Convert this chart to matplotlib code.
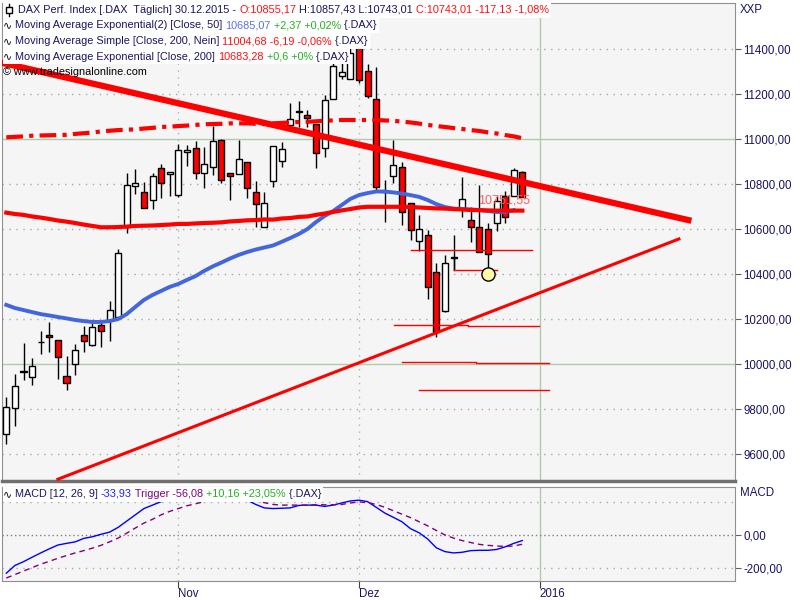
import numpy as np
import matplotlib.pyplot as plt
from matplotlib.patches import Rectangle
from matplotlib.lines import Line2D

# daily DAX bars (index 0 = first visible session)
opens = [9689, 9804, 9965, 9942, 10097, 10129, 10107, 9947, 10000, 10129,
         10084, 10173, 10198, 10212, 10609, 10791, 10764, 10729, 10871, 10846,
         10751, 10944, 10960, 10849, 10876, 10996, 10849, 10844, 10898, 10764,
         10610, 10816, 10905, 11062, 11120, 11107, 11067, 10960, 11180, 11283,
         11268, 11410, 11305, 11178, 10764, 10837, 10876, 10718, 10547, 10573,
         10409, 10238, 10473, 10696, 10641, 10610, 10600, 10627, 10749, 10747,
         10855]
highs = [9853, 9957, 10093, 10027, 10147, 10188, 10110, 10037, 10089, 10169,
         10184, 10196, 10281, 10512, 10849, 10868, 10810, 10850, 10890, 10853,
         10979, 10975, 10991, 10964, 11059, 11000, 10849, 10998, 10898, 10815,
         10764, 10972, 10988, 11160, 11170, 11129, 11067, 11196, 11345, 11347,
         11409, 11430, 11336, 11320, 10819, 10997, 10898, 10718, 10664, 10597,
         10449, 10484, 10573, 10831, 10698, 10796, 10627, 10749, 10772, 10872,
         10857]
lows = [9644, 9727, 9932, 9909, 10047, 10056, 9936, 9887, 9954, 10056,
        10082, 10078, 10105, 10205, 10585, 10758, 10693, 10692, 10740, 10749,
        10743, 10883, 10825, 10785, 10843, 10807, 10729, 10844, 10738, 10609,
        10610, 10787, 10878, 11053, 11053, 11053, 10871, 10923, 11180, 11267,
        11268, 11250, 11185, 10775, 10634, 10807, 10618, 10552, 10502, 10292,
        10123, 10234, 10419, 10656, 10545, 10498, 10392, 10594, 10627, 10747,
        10743]
closes = [9812, 9904, 9970, 9991, 10101, 10120, 10031, 9916, 10062, 10102,
          10164, 10147, 10240, 10493, 10796, 10804, 10693, 10836, 10804, 10853,
          10951, 10952, 10849, 10889, 10991, 10818, 10837, 10911, 10782, 10711,
          10716, 10972, 10958, 11089, 11128, 11093, 10938, 11173, 11326, 11298,
          11385, 11264, 11192, 10788, 10771, 10887, 10677, 10597, 10600, 10344,
          10144, 10449, 10479, 10736, 10609, 10498, 10489, 10726, 10653, 10862,
          10743]

ema50 = [10264, 10250, 10241, 10232, 10223, 10217, 10210, 10204, 10197, 10192,
         10188, 10188, 10192, 10201, 10223, 10255, 10286, 10308, 10326, 10344,
         10357, 10375, 10392, 10415, 10435, 10452, 10470, 10486, 10499, 10510,
         10519, 10528, 10544, 10561, 10579, 10601, 10632, 10659, 10681, 10708,
         10735, 10752, 10761, 10768, 10768, 10764, 10759, 10752, 10744, 10730,
         10712, 10699, 10692, 10690, 10688, 10686, 10681, 10677, 10677, 10685]
ema200 = [10674, 10668, 10664, 10657, 10652, 10646, 10639, 10634, 10628, 10621,
          10615, 10609, 10609, 10610, 10612, 10615, 10616, 10617, 10619, 10621,
          10624, 10624, 10626, 10628, 10629, 10631, 10635, 10637, 10640, 10641,
          10644, 10643, 10648, 10650, 10655, 10657, 10664, 10670, 10677, 10684,
          10690, 10697, 10700, 10700, 10700, 10700, 10700, 10699, 10697, 10695,
          10693, 10692, 10690, 10688, 10686, 10685, 10684, 10683, 10683, 10683,
          10683]
sma200 = [11009, 11011, 11013, 11016, 11017, 11018, 11019, 11020, 11024, 11027,
          11030, 11035, 11038, 11041, 11043, 11044, 11048, 11051, 11055, 11056,
          11059, 11061, 11064, 11067, 11068, 11069, 11071, 11071, 11071, 11069,
          11068, 11071, 11073, 11075, 11077, 11078, 11080, 11083, 11084, 11086,
          11086, 11086, 11086, 11086, 11084, 11082, 11079, 11075, 11070, 11064,
          11059, 11055, 11050, 11046, 11041, 11037, 11031, 11026, 11019, 11013,
          11005]

macd = [-232, -185, -162, -135, -109, -84, -61, -51, -42, -21,
        -11, 4, 17, 46, 84, 122, 160, 181, 202, 223,
        238, 244, 242, 242, 238, 232, 229, 227, 211, 185,
        164, 160, 162, 164, 179, 181, 181, 173, 181, 194,
        206, 211, 202, 168, 133, 107, 80, 38, 13, -25,
        -78, -101, -109, -105, -95, -93, -93, -88, -72, -51,
        -34]
trigger = [-261, -240, -219, -198, -177, -160, -141, -125, -109, -95,
           -80, -63, -42, -19, 11, 42, 72, 95, 122, 143,
           160, 177, 189, 202, 215, 219, 221, 221, 217, 206,
           196, 185, 181, 181, 181, 181, 183, 183, 183, 185,
           194, 200, 196, 185, 168, 147, 126, 105, 80, 55,
           27, 0, -19, -34, -46, -57, -63, -67, -69, -67,
           -56]

down_x, down_y = [-0.5, 79.3], [11340, 10641]
up_x, up_y = [6.0, 78.2], [9489, 10557]
# red horizontal marks: (start, end, level)
marks = [(47.1, 61.1, 10508), (52.1, 57.0, 10419), (45.1, 53.7, 10175),
         (53.7, 61.9, 10170), (46.0, 54.6, 10010), (54.6, 63.1, 10006),
         (48.0, 63.1, 9885)]

date_pos = [20, 41, 62]
date_lbl = ['Nov', 'Dez', '2016']
price_ticks = list(range(9600, 11600, 200))

FONT = ['Liberation Sans', 'DejaVu Sans']
NAVY = '#1a1460'
BG = '#f5f5f5'

fig = plt.figure(figsize=(8, 6), dpi=100)
ax = fig.add_axes([0.0025, 0.1983, 0.916, 0.7967])
ax2 = fig.add_axes([0.0025, 0.0317, 0.916, 0.1567], sharex=ax)

for a in (ax, ax2):
    a.set_facecolor(BG)
    for s in a.spines.values():
        s.set_color('#909090')
    a.yaxis.tick_right()
    a.tick_params(axis='y', length=4, color='#606060', labelcolor=NAVY,
                  labelsize=8.3, pad=2)
    for p, lbl in zip(date_pos, date_lbl):
        if lbl == '2016':
            a.axvline(p, color='#b4c8b0', lw=1, zorder=0)
        else:
            a.axvline(p, color='#a8b8a8', lw=1, ls=(0, (1, 4)), zorder=0)
ax.spines['bottom'].set_color('#707070')
ax.spines['bottom'].set_linewidth(2.5)

# price panel grid
for v in price_ticks:
    if v % 1000 == 0:
        ax.axhline(v, color='#b4c8b0', lw=1, zorder=0)
    else:
        ax.axhline(v, color='#a8a8a8', lw=1, ls=(0, (1, 4)), zorder=0)

# candles
for i in range(len(opens)):
    o, h, l, c = opens[i], highs[i], lows[i], closes[i]
    ax.vlines(i, l, h, color='black', lw=1, zorder=3)
    fc = 'white' if c >= o else '#ff0000'
    ax.add_patch(Rectangle((i - 0.35, min(o, c)), 0.7, max(abs(c - o), 3),
                           fc=fc, ec='black', lw=1, zorder=4))

ax.plot(range(len(ema50)), ema50, color='#4466dd', lw=2.8, zorder=5)
ax.plot(range(len(ema200)), ema200, color='#ff0000', lw=3, zorder=5)
ax.plot(range(len(sma200)), sma200, color='#ff0000', lw=3,
        ls=(0, (4, 1.5, 1, 1.5)), zorder=5)
ax.plot(down_x, down_y, color='#ff0000', lw=4.5, zorder=6)
ax.plot(up_x, up_y, color='#ff0000', lw=2.2, zorder=6)
for x0, x1, lev in marks:
    ax.plot([x0, x1], [lev, lev], color='#ff0000', lw=1, zorder=6)
ax.plot([52, 52], [10419, 10476], color='black', lw=1, zorder=3)
ax.plot(56, 10400, 'o', ms=9.5, mfc='#fffaa8', mec='black', mew=1, zorder=7)
ax.text(54.8, 10730, '10751,55', color='#ff6060', fontsize=9, family=FONT,
        va='center', ha='left', zorder=7)

ax.set_xlim(-0.5, 84.7)
ax.set_ylim(9481, 11606)
ax.set_yticks(price_ticks)
ax.set_yticklabels([f'{v:.2f}'.replace('.', ',') for v in price_ticks],
                   family=FONT)
ax.tick_params(axis='x', bottom=False, labelbottom=False)

# MACD panel
ax2.axhline(200, color='#a8a8a8', lw=1, ls=(0, (1, 4)), zorder=0)
ax2.axhline(0, color='#808080', lw=1, ls=(0, (1, 2)), zorder=0)
ax2.axhline(-200, color='#a8a8a8', lw=1, ls=(0, (1, 4)), zorder=0)
ax2.plot(range(len(macd)), macd, color='#0000ff', lw=1, zorder=3)
ax2.plot(range(len(trigger)), trigger, color='#800080', lw=1,
         ls=(0, (4, 3)), zorder=3)
ax2.set_ylim(-279, 291)
ax2.set_yticks([0, -200])
ax2.set_yticklabels(['0,00', '-200,00'], family=FONT)
ax2.set_xticks(date_pos)
ax2.set_xticklabels(date_lbl, family=FONT, ha='left')
ax2.tick_params(axis='x', length=5, color='#404040', labelcolor=NAVY,
                labelsize=8.3, pad=0)

fig.text(740 / 800, 1 - 10 / 600, 'XXP', color=NAVY, fontsize=8.3,
         family=FONT, va='center')
fig.text(740 / 800, 1 - 493 / 600, 'MACD', color=NAVY, fontsize=8.3,
         family=FONT, va='center')

rows = []


def text_row(a, x, y, parts, box=True, size=7.8):
    prev = None
    arts = []
    for s, c in parts:
        kw = dict(color=c, fontsize=size, family=FONT, va='center',
                  ha='left', zorder=10)
        if prev is None:
            prev = a.annotate(s, xy=(x / 800, 1 - y / 600),
                              xycoords='figure fraction', **kw)
        else:
            prev = a.annotate(s, xy=(1, 0.5), xycoords=prev, **kw)
        arts.append(prev)
    if box:
        rows.append((a, x, y, arts))


RED, GREEN, BLUE = '#ff1010', '#20b020', '#5a6ee8'
text_row(ax, 18, 10, [('DAX Perf. Index [.DAX  Täglich] 30.12.2015 - ', NAVY),
                      ('O:10855,17', RED),
                      (' H:10857,43 L:10743,01 ', NAVY),
                      ('C:10743,01 -117,13 -1,08%', RED)])
text_row(ax, 3, 25.5, [('∿', 'black'),
                       (' Moving Average Exponential(2) [Close, 50] ', NAVY),
                       ('10685,07', BLUE), (' +2,37 +0,02%', GREEN),
                       (' {.DAX}', NAVY)])
text_row(ax, 3, 41, [('∿', 'black'),
                     (' Moving Average Simple [Close, 200, Nein] ', NAVY),
                     ('11004,68 -6,19 -0,06%', RED), (' {.DAX}', NAVY)])
text_row(ax, 3, 56.5, [('∿', 'black'),
                       (' Moving Average Exponential [Close, 200] ', NAVY),
                       ('10683,28', RED), (' +0,6 +0%', GREEN),
                       (' {.DAX}', NAVY)])
text_row(ax, 3, 72, [('© www.tradesignalonline.com', 'black')], box=False)
text_row(ax2, 3, 494, [('∿', 'black'), (' MACD [12, 26, 9] ', NAVY),
                       ('-33,93', '#2020ff'), (' Trigger -56,08', '#800080'),
                       (' +10,16 +23,05%', GREEN), (' {.DAX}', NAVY)])

# white band behind each legend row, kept inside its panel
fig.canvas.draw()
r = fig.canvas.get_renderer()
for a, x, y, arts in rows:
    right = max(t.get_window_extent(r).x1 for t in arts)
    x0 = 3
    a.add_patch(Rectangle((x0 / 800, 1 - (y + 7.5) / 600),
                          (right + 2 - x0) / 800, 15 / 600,
                          transform=fig.transFigure, clip_on=False,
                          fc='white', ec='none', zorder=9))

# candle icon in the header
ax.add_line(Line2D([8.5 / 800, 8.5 / 800], [1 - 4 / 600, 1 - 16 / 600],
                   transform=fig.transFigure, clip_on=False,
                   color='black', lw=1, zorder=11))
ax.add_patch(Rectangle((5.5 / 800, 1 - 13 / 600), 6 / 800, 6 / 600,
                       transform=fig.transFigure, clip_on=False,
                       fc='white', ec='black', lw=1, zorder=11))

fig.savefig('out.png', dpi=100)
